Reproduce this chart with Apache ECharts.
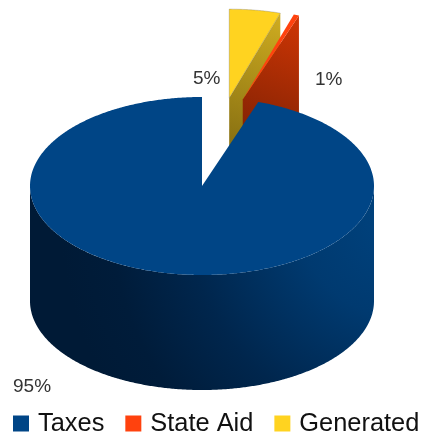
<!DOCTYPE html>
<html>
<head>
<meta charset="utf-8">
<style>html,body{margin:0;padding:0;background:#fff}#chart{width:430px;height:440px}</style>
<script src="https://cdn.jsdelivr.net/npm/echarts@6/dist/echarts.min.js"></script>
</head>
<body>
<div id="chart"></div>
<script>
// Revenue shares, laid out counter-clockwise from twelve o'clock.
const categories = ['Taxes', 'State Aid', 'Generated'];
const shares = [94.7, 0.5, 4.8];
const topColors = ['#004586', '#ff420e', '#ffd320'];

// Tilted-disc projection used by every slice.
const disc = { cx: 202, cy: 186, rx: 172, ry: 89, depth: 115 };
// Exploded slices slide one radius along a bearing (degrees clockwise from the back).
const explodeBearing = { 'State Aid': 13.7, 'Generated': 9.1 };
const labelAnchors = {
  'Taxes': { x: 13, y: 387 },
  'State Aid': { x: 315, y: 80 },
  'Generated': { x: 193, y: 79 }
};
const font = 'Liberation Sans, Arial, sans-serif';

const total = shares.reduce((a, b) => a + b, 0);
let cursor = 360;
const slices = categories.map((name, i) => {
  const sweep = shares[i] / total * 360;
  const slice = { name, value: shares[i], from: cursor - sweep, to: cursor, color: topColors[i] };
  cursor -= sweep;
  return slice;
});

function project(cx, cy, deg, drop) {
  const a = deg * Math.PI / 180;
  return [cx + disc.rx * Math.sin(a), cy - disc.ry * Math.cos(a) + (drop || 0)];
}
function arc(cx, cy, from, to, drop) {
  const pts = [];
  const n = Math.max(2, Math.ceil(Math.abs(to - from) * 2));
  for (let k = 0; k <= n; k++) pts.push(project(cx, cy, from + (to - from) * k / n, drop));
  return pts;
}
function sliceCentre(s) {
  const bearing = explodeBearing[s.name];
  if (bearing === undefined) return [disc.cx, disc.cy];
  return project(disc.cx, disc.cy, bearing);
}
function label(s) {
  const at = labelAnchors[s.name];
  return {
    type: 'text', silent: true, x: at.x, y: at.y,
    style: { text: Math.round(s.value) + '%', font: '19px ' + font, fill: '#333333', verticalAlign: 'middle' }
  };
}
function linear(x1, y1, x2, y2, a, b) {
  return new echarts.graphic.LinearGradient(x1, y1, x2, y2, [{ offset: 0, color: a }, { offset: 1, color: b }], true);
}

function renderSlice(params) {
  const s = slices[params.seriesIndex];
  const [cx, cy] = sliceCentre(s);
  const children = [];
  if (s.name === 'Taxes') {
    // Visible wall of the large slice: the front half of the rim, pushed down by the depth.
    const wall = arc(cx, cy, 90, 270, 0).concat(arc(cx, cy, 270, 90, disc.depth));
    children.push({
      type: 'polygon', shape: { points: wall },
      style: {
        fill: new echarts.graphic.RadialGradient(400, 215, 340, [
          { offset: 0, color: '#00437f' },
          { offset: 0.3, color: '#003a70' },
          { offset: 0.62, color: '#00264d' },
          { offset: 0.85, color: '#001c3a' },
          { offset: 1, color: '#001a36' }
        ], true)
      }
    });
  } else {
    // Cut wall on the clockwise edge of an exploded slice.
    const outer = project(cx, cy, s.to);
    const wall = [[cx, cy], outer, [outer[0], outer[1] + disc.depth], [cx, cy + disc.depth]];
    const shades = s.name === 'Generated' ? ['#d0ad20', '#7d6710'] : ['#cf3605', '#6f1d03'];
    children.push({
      type: 'polygon', shape: { points: wall },
      style: { fill: linear(outer[0], outer[1], cx, cy + disc.depth * 0.6, shades[0], shades[1]) }
    });
  }
  const top = [[cx, cy]].concat(arc(cx, cy, s.from, s.to));
  children.push({
    type: 'polygon', shape: { points: top },
    style: { fill: s.color, stroke: s.name === 'Generated' ? 'rgba(110,110,110,0.45)' : 'none', lineWidth: 0.7 }
  });
  children.push(label(s));
  return { type: 'group', children };
}

// Back-most slice first so nearer slices paint over it.
const paintOrder = { 'Generated': 1, 'State Aid': 2, 'Taxes': 3 };
const chart = echarts.init(document.getElementById('chart'), null, { renderer: 'canvas' });
chart.setOption({
  animation: false,
  backgroundColor: '#ffffff',
  legend: {
    data: categories,
    left: 13,
    top: 411,
    padding: 0,
    itemWidth: 16,
    itemHeight: 16,
    itemGap: 21,
    icon: 'rect',
    textStyle: { fontFamily: font, fontSize: 25.4, color: '#111111', padding: [0, 0, 0, 4] }
  },
  series: slices.map(s => ({
    type: 'custom',
    name: s.name,
    coordinateSystem: 'none',
    z: paintOrder[s.name],
    itemStyle: { color: s.color },
    data: [s.value],
    renderItem: renderSlice
  }))
});
</script>
</body>
</html>
